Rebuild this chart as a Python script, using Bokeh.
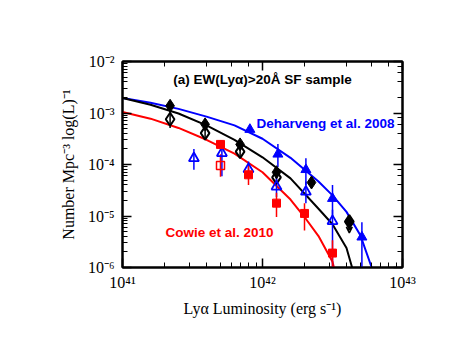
import numpy as np
from bokeh.plotting import figure
from bokeh.models import (CustomJSTickFormatter, LogAxis, Label, Arrow, VeeHead, Range1d)
from bokeh.embed import file_html
from bokeh.resources import INLINE

# ---------------- data (log10 values) ----------------
# black: this work, filled and open diamonds
blk_f_logL = [41.34, 41.59, 41.84, 42.10, 42.35, 42.62]
blk_f_logphi = [-2.86, -3.22, -3.61, -4.15, -4.35, -5.11]
blk_f_err = [0.10, 0.08, 0.08, 0.08, 0.06, 0.0]

blk_o_logL = [41.34, 41.59, 41.84, 42.10, 42.62]
blk_o_logphi = [-3.12, -3.39, -3.75, -4.25, -5.11]
blk_o_err = [0.17, 0.10, 0.10, 0.10, 0.0]

# upper limit (arrow) at the highest luminosity
lim_logL = [42.62]
lim_logphi = [-5.11]
lim_len = [0.22]

# blue: Deharveng et al. 2008
blu_f_logL = [41.91, 42.11, 42.31, 42.50, 42.71]
blu_f_logphi = [-3.32, -3.80, -4.10, -4.66, -5.41]
blu_f_up = [0.08, 0.20, 0.22, 0.26, 0.29]
blu_f_dn = [0.05, 0.25, 0.30, 0.36, 1.00]

blu_o_logL = [41.51, 41.71, 41.90, 42.10, 42.31, 42.50]
blu_o_logphi = [-3.88, -3.78, -4.09, -4.43, -4.53, -5.10]
blu_o_up = [0.18, 0.25, 0.15, 0.20, 0.20, 0.22]
blu_o_dn = [0.22, 0.45, 0.15, 0.20, 0.22, 1.00]

# red: Cowie et al. 2010
red_f_logL = [41.70, 41.90, 42.10, 42.30, 42.50]
red_f_logphi = [-3.61, -4.20, -4.75, -4.95, -5.72]
red_f_up = [0.08, 0.18, 0.20, 0.20, 0.25]
red_f_dn = [0.10, 0.20, 0.27, 0.33, 1.00]

red_o_logL = [41.70]
red_o_logphi = [-4.02]
red_o_up = [0.22]
red_o_dn = [0.22]

# fitted curves
blu_c_logL = [41.0, 41.2, 41.4, 41.6, 41.8, 42.0, 42.2, 42.4, 42.5, 42.6, 42.7, 42.78]
blu_c_logphi = [-2.71, -2.80, -2.92, -3.07, -3.24, -3.50, -3.87, -4.33, -4.60, -4.92, -5.38, -6.0]

blk_c_logL = [41.0, 41.2, 41.4, 41.6, 41.8, 42.0, 42.2, 42.4, 42.5, 42.6, 42.64]
blk_c_logphi = [-2.71, -2.84, -3.01, -3.24, -3.52, -3.86, -4.27, -4.86, -5.16, -5.62, -6.0]

red_c_logL = [41.0, 41.2, 41.4, 41.6, 41.8, 42.0, 42.2, 42.3, 42.4, 42.5, 42.51]
red_c_logphi = [-2.98, -3.11, -3.29, -3.52, -3.79, -4.15, -4.68, -5.02, -5.39, -5.89, -6.0]

x_lim = [1e41, 1e43]
y_lim = [1e-6, 1e-2]

BLUE = "#0000ff"
RED = "#ff0000"
BLACK = "#000000"


def p10(a):
    return [10.0 ** v for v in a]


p = figure(width=447, height=348, x_axis_type="log", y_axis_type="log",
           x_range=Range1d(*x_lim), y_range=Range1d(*y_lim),
           output_backend="svg", toolbar_location=None,
           x_axis_label="Ly\u03b1 Luminosity (erg s\u207b\u00b9)",
           y_axis_label="Number Mpc\u207b\u00b3 log(L)\u207b\u00b9",
           min_border_left=122, min_border_right=45, min_border_top=61, min_border_bottom=81)
p.background_fill_color = "white"
p.border_fill_color = "white"
p.outline_line_color = "black"
p.outline_line_width = 2
p.xgrid.visible = False
p.ygrid.visible = False

fmt = CustomJSTickFormatter(code="""
const sup = {'-':'\\u207b','0':'\\u2070','1':'\\u00b9','2':'\\u00b2','3':'\\u00b3','4':'\\u2074',
             '5':'\\u2075','6':'\\u2076','7':'\\u2077','8':'\\u2078','9':'\\u2079'};
const e = Math.round(Math.log10(tick));
let s = '10';
for (const c of String(e)) { s += sup[c]; }
return s;
""")

SERIF = "Liberation Serif"


def style_axis(ax, labels=True):
    ax.major_tick_in = 9
    ax.major_tick_out = 0
    ax.minor_tick_in = 5
    ax.minor_tick_out = 0
    ax.axis_line_width = 2
    ax.axis_line_color = BLACK
    ax.major_tick_line_color = BLACK
    ax.minor_tick_line_color = BLACK
    ax.major_tick_line_width = 1.5
    ax.minor_tick_line_width = 1
    ax.major_label_text_font = SERIF
    ax.major_label_text_font_size = "16px"
    ax.major_label_text_color = BLACK
    ax.axis_label_text_font = SERIF
    ax.axis_label_text_font_size = "16px"
    ax.axis_label_text_font_style = "normal"
    ax.axis_label_text_color = BLACK
    ax.formatter = fmt
    if not labels:
        ax.major_label_text_alpha = 0


xb = p.xaxis[0]
style_axis(xb)
xb.major_label_standoff = 6
xb.axis_label_standoff = 6

yl = p.yaxis[0]
style_axis(yl)
yl.major_label_standoff = 8
yl.axis_label_standoff = 8

xt = LogAxis()
style_axis(xt, labels=False)
p.add_layout(xt, "above")
yr = LogAxis()
style_axis(yr, labels=False)
p.add_layout(yr, "right")

# curves
p.line(p10(blu_c_logL), p10(blu_c_logphi), line_color=BLUE, line_width=2)
p.line(p10(blk_c_logL), p10(blk_c_logphi), line_color=BLACK, line_width=2)
p.line(p10(red_c_logL), p10(red_c_logphi), line_color=RED, line_width=2)


def errbars(lx, ly, up, dn, color):
    x = p10(lx)
    y0 = [10 ** (a - d) for a, d in zip(ly, dn)]
    y1 = [10 ** (a + u) for a, u in zip(ly, up)]
    p.segment(x, y0, x, y1, line_color=color, line_width=1.5)


errbars(blk_f_logL, blk_f_logphi, blk_f_err, blk_f_err, BLACK)
errbars(blk_o_logL, blk_o_logphi, blk_o_err, blk_o_err, BLACK)
errbars(blu_f_logL, blu_f_logphi, blu_f_up, blu_f_dn, BLUE)
errbars(blu_o_logL, blu_o_logphi, blu_o_up, blu_o_dn, BLUE)
errbars(red_f_logL, red_f_logphi, red_f_up, red_f_dn, RED)
errbars(red_o_logL, red_o_logphi, red_o_up, red_o_dn, RED)

for lx, ly, ll in zip(lim_logL, lim_logphi, lim_len):
    p.add_layout(Arrow(end=VeeHead(size=6, line_color=BLACK, line_width=1.5, fill_alpha=0),
                       x_start=10 ** lx, y_start=10 ** ly, x_end=10 ** lx, y_end=10 ** (ly - ll),
                       line_color=BLACK, line_width=1.5))

# markers
p.scatter(p10(blk_o_logL), p10(blk_o_logphi), marker="diamond", size=13,
          fill_color="white", fill_alpha=0, line_color=BLACK, line_width=2)
p.scatter(p10(blk_f_logL), p10(blk_f_logphi), marker="diamond", size=13,
          fill_color=BLACK, line_color=BLACK)
p.scatter(p10(blu_o_logL), p10(blu_o_logphi), marker="triangle", size=10,
          fill_color="white", fill_alpha=0, line_color=BLUE, line_width=1.8)
p.scatter(p10(blu_f_logL), p10(blu_f_logphi), marker="triangle", size=10,
          fill_color=BLUE, line_color=BLUE)
p.scatter(p10(red_o_logL), p10(red_o_logphi), marker="square", size=8,
          fill_color="white", fill_alpha=0, line_color=RED, line_width=1.5)
p.scatter(p10(red_f_logL), p10(red_f_logphi), marker="square", size=8,
          fill_color=RED, line_color=RED)

SANS = "Liberation Sans"
p.add_layout(Label(x=1e42, y=10 ** -2.34, text="(a) EW(Ly\u03b1)>20\u00c5 SF sample",
                   text_font=SANS, text_font_size="13.5px", text_font_style="bold",
                   text_align="center", text_baseline="middle", text_color=BLACK))
p.add_layout(Label(x=10 ** 41.957, y=10 ** -3.21, text="Deharveng et al. 2008",
                   text_font=SANS, text_font_size="13.5px", text_font_style="bold",
                   text_align="left", text_baseline="middle", text_color=BLUE))
p.add_layout(Label(x=10 ** 41.307, y=10 ** -5.33, text="Cowie et al. 2010",
                   text_font=SANS, text_font_size="13.5px", text_font_style="bold",
                   text_align="left", text_baseline="middle", text_color=RED))

open("out.html", "w").write(file_html(p, INLINE))
